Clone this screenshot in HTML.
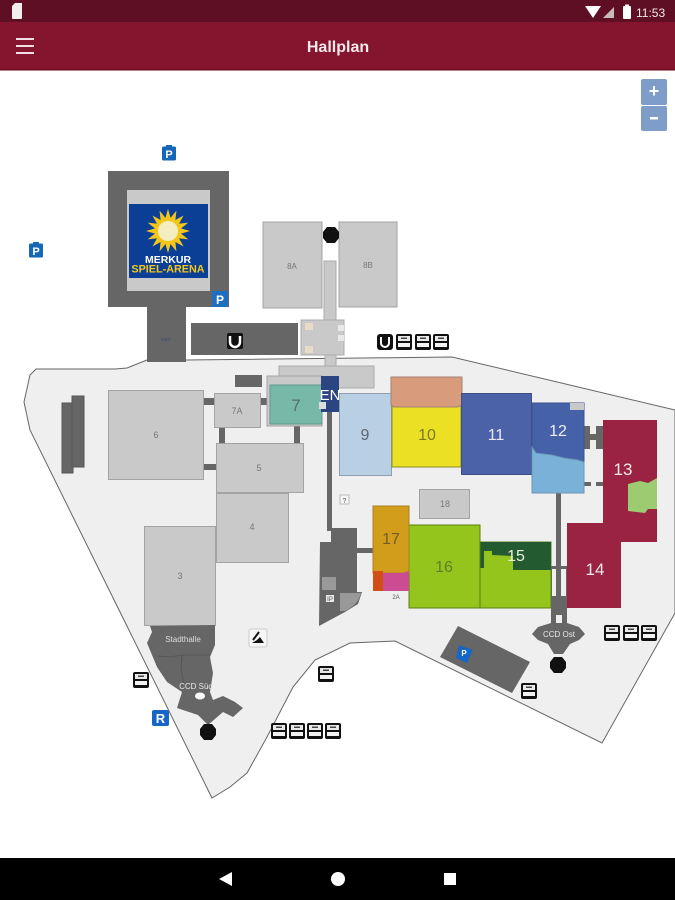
<!DOCTYPE html>
<html><head><meta charset="utf-8"><title>Hallplan</title>
<style>html,body{margin:0;padding:0;background:#fff}svg{display:block;filter:blur(0.35px)}text{font-family:"Liberation Sans",sans-serif}</style></head>
<body>
<svg width="675" height="900" viewBox="0 0 675 900" xmlns="http://www.w3.org/2000/svg">
<defs>
<g id="ic"><rect x="0" y="0" width="16" height="16" rx="2" fill="#111"/><rect x="2" y="2" width="12" height="5" fill="#e8e8e8"/><rect x="2" y="9" width="12" height="4" fill="#f2f2f2"/><rect x="5" y="3.500" width="6" height="1.500" fill="#444"/></g>
<g id="pk"><rect x="0" y="1.5" width="14" height="14" rx="1.5" fill="#1667b5"/><rect x="4" y="0" width="6" height="3" fill="#1667b5"/><text x="7" y="13" font-size="11" font-weight="bold" text-anchor="middle" fill="#fff">P</text></g>
<polygon id="en" points="-4,-8 4,-8 8,-3 8,3 4,8 -4,8 -8,3 -8,-3" fill="#111"/>
<polygon id="ray" points="-3.500,-10 0,-22 3.500,-10" fill="#f3c61c"/>
</defs>
<rect width="675" height="900" fill="#fff"/>

<!-- grounds -->
<polygon points="147,360 127,368 115,369 36,369 30,375 24,402 30,430 212,798 230,787 247,773 267,737 293,687 315,660 350,643 395,641 602,743 675,613 675,410 452,357 186,360" fill="#efefef" stroke="#666" stroke-width="1"/>

<!-- arena -->
<rect x="108" y="171" width="121" height="136" fill="#666"/>
<rect x="127" y="190" width="83" height="101" fill="#c9c9c9"/>
<rect x="129" y="204" width="79" height="74" fill="#0b3f95"/>
<g transform="translate(168,231)">
<use href="#ray"/><use href="#ray" transform="rotate(22.5)"/><use href="#ray" transform="rotate(45)"/><use href="#ray" transform="rotate(67.5)"/><use href="#ray" transform="rotate(90)"/><use href="#ray" transform="rotate(112.5)"/><use href="#ray" transform="rotate(135)"/><use href="#ray" transform="rotate(157.5)"/><use href="#ray" transform="rotate(180)"/><use href="#ray" transform="rotate(202.5)"/><use href="#ray" transform="rotate(225)"/><use href="#ray" transform="rotate(247.5)"/><use href="#ray" transform="rotate(270)"/><use href="#ray" transform="rotate(292.5)"/><use href="#ray" transform="rotate(315)"/><use href="#ray" transform="rotate(337.5)"/>
<circle r="12" fill="#f3c61c"/><circle r="10" fill="#f3edc0"/>
</g>
<text x="168" y="263" font-size="10.500" font-weight="bold" text-anchor="middle" fill="#fff">MERKUR</text>
<text x="168" y="272.500" font-size="10.800" font-weight="bold" text-anchor="middle" fill="#f3c61c">SPIEL-ARENA</text>
<rect x="212" y="291" width="16" height="16" fill="#1f6fc0"/>
<text x="220" y="304" font-size="12" font-weight="bold" text-anchor="middle" fill="#fff">P</text>
<rect x="147" y="307" width="39" height="55" fill="#666"/>
<text x="166" y="341" font-size="4.5" text-anchor="middle" fill="#3c4870">Süd+</text>
<rect x="191" y="323" width="107" height="32" fill="#666"/>
<rect x="227" y="333" width="16" height="16" rx="2" fill="#111"/>
<path d="M230 336v6a5 5 0 0 0 10 0v-6" fill="none" stroke="#fff" stroke-width="2.5"/>
<use href="#pk" x="162" y="145"/>
<use href="#pk" x="29" y="242"/>

<!-- 8A/8B and corridor -->
<rect x="263" y="222" width="59" height="86" fill="#c9c9c9" stroke="#a3a3a3"/>
<rect x="339" y="222" width="58" height="85" fill="#c9c9c9" stroke="#a3a3a3"/>
<text x="292" y="269" font-size="8" text-anchor="middle" fill="#777">8A</text>
<text x="368" y="268" font-size="8" text-anchor="middle" fill="#777">8B</text>
<use href="#en" x="331" y="235"/>
<rect x="324" y="261" width="12" height="60" fill="#c9c9c9" stroke="#ababab"/>
<rect x="301" y="320" width="43" height="35" fill="#c9c9c9" stroke="#ababab"/>
<rect x="325" y="355" width="11" height="12" fill="#c9c9c9" stroke="#ababab"/>
<rect x="279" y="366" width="95" height="22" fill="#c9c9c9" stroke="#ababab"/>
<rect x="305" y="323" width="8" height="7" fill="#e8dcc8"/><rect x="305" y="346" width="8" height="7" fill="#e8dcc8"/><rect x="338" y="325" width="6" height="6" fill="#e8e8e8"/><rect x="338" y="335" width="6" height="6" fill="#e8e8e8"/>
<rect x="235" y="375" width="27" height="12" fill="#666"/>

<!-- top icon row -->
<rect x="377" y="334" width="16" height="16" rx="3" fill="#111"/>
<path d="M381 337v6a4 4 0 0 0 8 0v-6" fill="none" stroke="#fff" stroke-width="2"/>
<use href="#ic" x="396" y="334"/><use href="#ic" x="415" y="334"/><use href="#ic" x="433" y="334"/>

<!-- left small -->
<rect x="62" y="403" width="11" height="70" fill="#666" stroke="#555"/>
<rect x="72" y="396" width="12" height="71" fill="#666" stroke="#555"/>

<!-- connectors -->
<g fill="#666">
<rect x="203" y="398" width="12" height="7"/><rect x="260" y="398" width="8" height="7"/>
<rect x="219" y="427" width="6" height="17"/><rect x="294" y="425" width="6" height="19"/>
<rect x="203" y="464" width="14" height="6"/><rect x="327" y="411" width="5" height="120"/>
<rect x="357" y="548" width="17" height="5"/><rect x="556" y="492" width="5" height="104"/>
<rect x="584" y="426" width="6" height="23"/><rect x="596" y="426" width="7" height="23"/><rect x="584" y="434" width="19" height="6"/>
<rect x="584" y="482" width="7" height="4"/><rect x="596" y="482" width="7" height="4"/>
<rect x="550" y="566" width="18" height="3"/>
<rect x="550" y="566" width="2" height="30"/><rect x="566" y="566" width="2" height="30"/>
</g>

<!-- grey halls -->
<g fill="#c9c9c9" stroke="#a3a3a3">
<rect x="108.500" y="390.500" width="95" height="89"/>
<rect x="214.500" y="393.500" width="46" height="34"/>
<rect x="216.500" y="443.500" width="87" height="49"/>
<rect x="216.500" y="493.500" width="72" height="69"/>
<rect x="144.500" y="526.500" width="71" height="99"/>
<rect x="419.500" y="489.500" width="50" height="29"/>
<rect x="267" y="376" width="55" height="50"/>
</g>
<g fill="#777" text-anchor="middle" font-size="9">
<text x="156" y="438">6</text><text x="237" y="414">7A</text><text x="259" y="471">5</text><text x="252" y="530">4</text><text x="180" y="579">3</text><text x="445" y="507">18</text>
</g>

<!-- hall 7 + EN -->
<rect x="270" y="385" width="52" height="39" fill="#77b9a9" stroke="#5f9c8d"/>
<text x="296" y="411" font-size="17" text-anchor="middle" fill="#59706b">7</text>
<rect x="321" y="376" width="18" height="36" fill="#2b4582"/>
<text x="330" y="400" font-size="15" text-anchor="middle" fill="#fff">EN</text>
<rect x="319" y="402" width="7" height="7" fill="#ddd"/>

<!-- colored halls -->
<rect x="339.500" y="393.500" width="52" height="82" fill="#b9cfe3" stroke="#8f9fb0"/>
<text x="365" y="440" font-size="16" text-anchor="middle" fill="#5c6670">9</text>
<rect x="392" y="405" width="69" height="62" fill="#ebe023" stroke="#8e8a28"/>
<polygon points="391,377 462,377 462,405 458,407 394,407 391,405" fill="#d89c7c" stroke="#a58070"/>
<text x="427" y="440" font-size="16" text-anchor="middle" fill="#7b7a25">10</text>
<rect x="461.500" y="393.500" width="70" height="81" fill="#4c62a8" stroke="#3e5088"/>
<text x="496" y="440" font-size="16" text-anchor="middle" fill="#e6e9f4">11</text>
<polygon points="532,403 584,403 584,462 578,460 564,458 552,455 536,453 532,447" fill="#4561a8" stroke="#3e5088"/>
<polygon points="532,447 536,453 552,455 564,458 578,460 584,462 584,493 532,493" fill="#7ab1d8" stroke="#6a96b5"/>
<rect x="570" y="403" width="14" height="7" fill="#c9c9c9"/>
<text x="558" y="436" font-size="16" text-anchor="middle" fill="#eef1f8">12</text>
<rect x="603" y="420" width="54" height="122" fill="#9a2342"/>
<polygon points="628,484 640,481 648,483 657,478 657,509 648,509 645,513 628,511" fill="#9dcb72"/>
<text x="623" y="475" font-size="17" text-anchor="middle" fill="#f4e8ea">13</text>
<rect x="567" y="523" width="54" height="85" fill="#9a2342"/>
<text x="595" y="575" font-size="17" text-anchor="middle" fill="#f4e8ea">14</text>
<rect x="480" y="542" width="71" height="66" fill="#93c51c" stroke="#5e7f14"/>
<polygon points="480,542 551,542 551,570 513,570 513,556 492,555 492,551 484,551 484,568 480,568" fill="#245a30"/>
<text x="516" y="561" font-size="16" text-anchor="middle" fill="#e8f0e0">15</text>
<rect x="409" y="525" width="71" height="83" fill="#93c51c" stroke="#5e7f14"/>
<text x="444" y="572" font-size="16" text-anchor="middle" fill="#5f7f2a">16</text>
<rect x="373" y="506" width="36" height="67" fill="#d39d1c" stroke="#a88020"/>
<rect x="373" y="571" width="10" height="20" fill="#d14f14"/>
<polygon points="383,573 402,573 409,571 409,591 383,591" fill="#cc4c94"/>
<text x="391" y="544" font-size="16" text-anchor="middle" fill="#6f5d2a">17</text>
<rect x="392" y="593" width="9" height="7" fill="#eee"/>
<text x="396" y="599" font-size="6" text-anchor="middle" fill="#555">2A</text>
<rect x="340" y="495" width="9" height="9" fill="#f6f6f6" stroke="#bbb"/>
<text x="344.500" y="503" font-size="7" text-anchor="middle" fill="#555">?</text>

<!-- entrance block -->
<polygon points="320,542 331,542 331,528 357,528 357,592 362,592 358,604 345,612 319,626" fill="#666"/>
<rect x="322" y="577" width="14" height="13" fill="#999"/>
<path d="M340 593H361Q358 605 345 611H340Z" fill="#999"/>
<rect x="326" y="595" width="8" height="7" fill="#e8e8e8"/>
<text x="330" y="601" font-size="6" text-anchor="middle" fill="#555">IP</text>

<!-- Stadthalle -->
<polygon points="150,626 215,625 215,645 210,657 213,673 210,692 213,700 223,696 235,702 243,708 233,717 223,712 208,725 198,715 177,708 182,692 167,682 157,667 147,643 152,632" fill="#666"/>
<path d="M158 656L170 657 182 655 210 655M182 655L181 670 184 684" fill="none" stroke="#555"/>
<text x="183" y="642" font-size="8" text-anchor="middle" fill="#ddd">Stadthalle</text>
<text x="196" y="689" font-size="8" text-anchor="middle" fill="#e8e8e8">CCD Süd</text>
<ellipse cx="200" cy="696" rx="5" ry="3.500" fill="#fff"/>
<use href="#en" x="208" y="732"/>
<rect x="249" y="629" width="18" height="18" rx="2" fill="#f6f6f6" stroke="#ccc"/>
<polygon points="252,643 264,643 260,637 257,640" fill="#111"/><path d="M253 640l6-8" stroke="#111" stroke-width="2"/>

<!-- CCD Ost -->
<polygon points="551,596 567,596 567,623 579,627 585,634 579,640 570,644 563,654 554,654 548,644 538,640 532,634 538,627 551,623" fill="#666"/>
<rect x="556" y="615" width="6" height="8" fill="#eee"/>
<text x="559" y="637" font-size="8" text-anchor="middle" fill="#e8e8e8">CCD Ost</text>
<use href="#en" x="558" y="665"/>

<!-- parking block -->
<polygon points="458,626 530,662 512,693 440,657" fill="#666"/>
<polygon points="459,645 473,650 467,663 456,658" fill="#1667c5"/>
<text x="464" y="656" font-size="8" font-weight="bold" text-anchor="middle" fill="#fff">P</text>

<!-- small icons -->
<use href="#ic" x="604" y="625"/><use href="#ic" x="623" y="625"/><use href="#ic" x="641" y="625"/>
<use href="#ic" x="521" y="683"/>
<use href="#ic" x="318" y="666"/>
<use href="#ic" x="133" y="672"/>
<use href="#ic" x="271" y="723"/><use href="#ic" x="289" y="723"/><use href="#ic" x="307" y="723"/><use href="#ic" x="325" y="723"/>
<rect x="152" y="710" width="17" height="16" rx="2" fill="#1667c5"/>
<text x="160.500" y="723" font-size="13" font-weight="bold" text-anchor="middle" fill="#fff">R</text>

<!-- status bar -->
<rect width="675" height="22" fill="#5e0f23"/>
<path d="M12 7l3-3h7v15a1 1 0 0 1-1 1h-8a1 1 0 0 1-1-1z" fill="#f2eeee" transform="translate(0,-1)"/>
<polygon points="585,6 601,6 593,18" fill="#fff"/>
<polygon points="614,7 614,18 603,18" fill="#c7b9bc"/>
<rect x="623" y="6" width="8" height="13" rx="1" fill="#fff"/><rect x="625" y="4.500" width="4" height="2" fill="#fff"/>
<text x="636" y="17" font-size="12" fill="#f2e8ea">11:53</text>

<!-- toolbar -->
<rect y="22" width="675" height="48" fill="#85142f"/>
<rect y="69" width="675" height="1.500" fill="#6e0a1e"/>
<g fill="#f1dfe3"><rect x="16" y="38" width="18" height="2"/><rect x="16" y="45" width="18" height="2"/><rect x="16" y="52" width="18" height="2"/></g>
<text x="338" y="52" font-size="16" font-weight="bold" text-anchor="middle" fill="#f5e9ec">Hallplan</text>

<!-- zoom -->
<rect x="641" y="79" width="26" height="26" rx="2" fill="#7e9ec9"/>
<rect x="641" y="106" width="26" height="25" rx="2" fill="#7e9ec9"/>
<text x="654" y="97" font-size="18" font-weight="bold" text-anchor="middle" fill="#fff">+</text>
<rect x="650" y="117" width="8" height="2.500" fill="#fff"/>

<!-- nav bar -->
<rect y="858" width="675" height="42" fill="#000"/>
<polygon points="232,872 232,886 219,879" fill="#fff"/>
<circle cx="338" cy="879" r="7" fill="#fff"/>
<rect x="444" y="873" width="12" height="12" fill="#fff"/>
</svg>
</body></html>
